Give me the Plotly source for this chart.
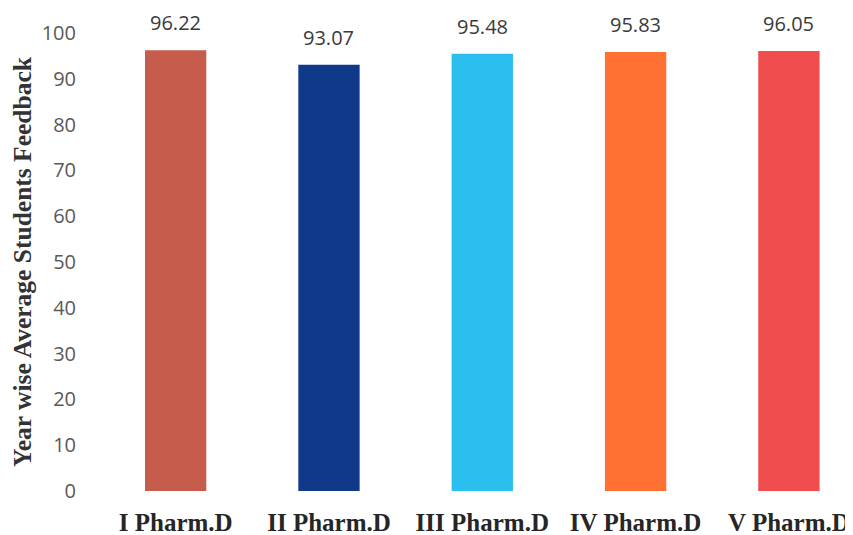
import plotly.graph_objects as go

categories = ["I Pharm.D", "II Pharm.D", "III Pharm.D", "IV Pharm.D", "V Pharm.D"]
values = [96.22, 93.07, 95.48, 95.83, 96.05]
colors = ["#C65C4B", "#10398A", "#2BBFF0", "#FE7133", "#EE4C4D"]
y_ticks = [0, 10, 20, 30, 40, 50, 60, 70, 80, 90, 100]

fig = go.Figure(go.Bar(
    x=categories, y=values, marker=dict(color=colors, line=dict(width=0)),
    width=0.4, cliponaxis=False,
))
for c, v in zip(categories, values):
    fig.add_annotation(x=c, y=v, text=f"{v:.2f}", showarrow=False, yanchor="bottom", yshift=12,
                       font=dict(family="Open Sans", size=20, color="#3A3A3A"))
fig.update_layout(
    width=845, height=527, plot_bgcolor="white", paper_bgcolor="white",
    margin=dict(l=91, r=0, t=25, b=44), showlegend=False,
    xaxis=dict(range=[-0.5, 4.418], showgrid=False, showline=False, automargin=False,
               ticks="outside", ticklen=9, tickcolor="rgba(0,0,0,0)",
               tickprefix="<b>", ticksuffix="</b>",
               tickfont=dict(family="Liberation Serif", size=25, color="#262626")),
    yaxis=dict(range=[0, 100], tickvals=y_ticks, showgrid=False, showline=False, zeroline=False,
               automargin=False, ticks="outside", ticklen=18, tickcolor="rgba(0,0,0,0)",
               tickfont=dict(family="Open Sans", size=20, color="#595959"),
               title=dict(text="<b>Year wise Average Students Feedback</b>",
                          font=dict(family="Liberation Serif", size=25.5, color="#333333"), standoff=4)),
)
fig.write_html("out.html")
